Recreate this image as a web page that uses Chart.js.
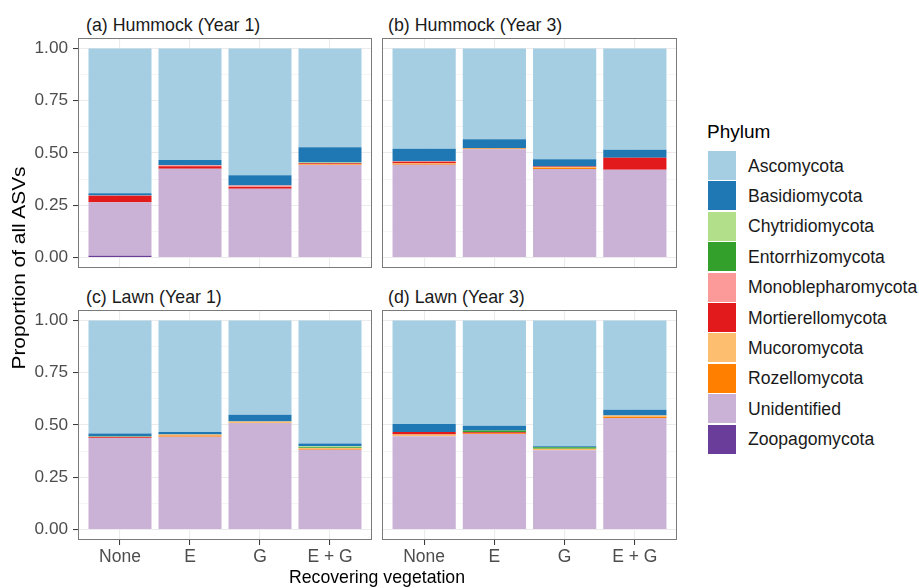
<!DOCTYPE html>
<html>
<head>
<meta charset="utf-8">
<script src="https://cdn.jsdelivr.net/npm/chart.js@4.4.0/dist/chart.umd.min.js"></script>
<style>
  body { margin: 0; background: #fff; font-family: "Liberation Sans", Arial, Helvetica, sans-serif; }
  #wrap { position: relative; width: 919px; height: 588px; overflow: hidden; background: #fff; }
  #wrap canvas { position: absolute; }
  .txt { position: absolute; white-space: nowrap; line-height: 20px; }
  .strip { font-size: 17.8px; color: #1a1a1a; }
  .key { position: absolute; width: 28px; height: 29px; }
</style>
</head>
<body>
<div id="wrap"></div>
<script>
const categorias = ['None', 'E', 'G', 'E + G'];
const titulos = ['(a) Hummock (Year 1)', '(b) Hummock (Year 3)', '(c) Lawn (Year 1)', '(d) Lawn (Year 3)'];
const yTicks = [0, 0.125, 0.25, 0.375, 0.5, 0.625, 0.75, 0.875, 1];

const phyla = ['Ascomycota', 'Basidiomycota', 'Chytridiomycota', 'Entorrhizomycota', 'Monoblepharomycota',
  'Mortierellomycota', 'Mucoromycota', 'Rozellomycota', 'Unidentified', 'Zoopagomycota'];
const cores = ['#a6cee3', '#1f78b4', '#b2df8a', '#33a02c', '#fb9a99',
  '#e31a1c', '#fdbf6f', '#ff7f00', '#cab2d6', '#6a3d9a'];

// proportions per panel (a, b, c, d), each [None, E, G, E + G]
const ascomycota = [[0.692, 0.533, 0.607, 0.473], [0.480, 0.434, 0.530, 0.485], [0.541, 0.533, 0.451, 0.589], [0.495, 0.503, 0.602, 0.427]];
const basidiomycota = [[0.011, 0.025, 0.048, 0.072], [0.059, 0.043, 0.035, 0.038], [0.013, 0.013, 0.032, 0.013], [0.038, 0.023, 0.005, 0.027]];
const chytridiomycota = [[0, 0, 0, 0.004], [0, 0, 0, 0], [0, 0, 0, 0.004], [0, 0, 0, 0]];
const entorrhizomycota = [[0, 0, 0, 0], [0, 0, 0, 0], [0.002, 0, 0, 0.004], [0, 0.009, 0.006, 0]];
const monoblepharomycota = [[0.002, 0.005, 0.008, 0], [0.003, 0, 0, 0], [0.003, 0, 0, 0], [0, 0, 0, 0]];
const mortierellomycota = [[0.030, 0.012, 0.008, 0.004], [0.007, 0, 0.002, 0.057], [0.003, 0, 0, 0], [0.013, 0.004, 0, 0]];
const mucoromycota = [[0, 0, 0, 0.002], [0.002, 0.002, 0.005, 0], [0, 0.004, 0.008, 0.004], [0.008, 0, 0.008, 0.006]];
const rozellomycota = [[0, 0, 0, 0.002], [0.005, 0.003, 0.004, 0], [0, 0.006, 0, 0.004], [0, 0.004, 0, 0.006]];
const unidentified = [[0.257, 0.425, 0.329, 0.443], [0.444, 0.518, 0.424, 0.420], [0.438, 0.444, 0.509, 0.382], [0.446, 0.457, 0.379, 0.534]];
const zoopagomycota = [[0.008, 0, 0, 0], [0, 0, 0, 0], [0, 0, 0, 0], [0, 0, 0, 0]];

const valores = [ascomycota, basidiomycota, chytridiomycota, entorrhizomycota, monoblepharomycota,
  mortierellomycota, mucoromycota, rozellomycota, unidentified, zoopagomycota];

const FONTE = '"Liberation Sans", Arial, Helvetica, sans-serif';
const wrap = document.getElementById('wrap');

// layout of the 4 facets
const paineis = [
  { left: 0,   top: 38,  w: 372, h: 230, eixoY: true,  eixoX: false },
  { left: 382, top: 38,  w: 295, h: 230, eixoY: false, eixoX: false },
  { left: 0,   top: 310, w: 372, h: 278, eixoY: true,  eixoX: true },
  { left: 382, top: 310, w: 295, h: 278, eixoY: false, eixoX: true }
];

const moldura = {
  id: 'moldura',
  afterDraw(chart) {
    const { ctx, chartArea: a } = chart;
    ctx.save();
    ctx.strokeStyle = '#7a7a7a';
    ctx.lineWidth = 1;
    ctx.strokeRect(a.left + 0.5, a.top + 0.5, a.width - 1, a.height - 1);
    ctx.restore();
  }
};

function ehMaior(v) {
  return Math.abs(v * 4 - Math.round(v * 4)) < 1e-6;
}

function semPadding(s) {
  s.paddingTop = 0;
  s.paddingBottom = 0;
  s.paddingLeft = 0;
  s.paddingRight = 0;
}

function addTexto(texto, css, classe) {
  const d = document.createElement('div');
  d.className = 'txt ' + (classe || '');
  d.textContent = texto;
  Object.assign(d.style, css);
  wrap.appendChild(d);
  return d;
}

paineis.forEach((p, i) => {
  const canvas = document.createElement('canvas');
  canvas.width = p.w;
  canvas.height = p.h;
  canvas.style.left = p.left + 'px';
  canvas.style.top = p.top + 'px';
  canvas.style.width = p.w + 'px';
  canvas.style.height = p.h + 'px';
  wrap.appendChild(canvas);

  // stack from the bottom: last phylum first
  const datasets = [];
  for (let k = phyla.length - 1; k >= 0; k--) {
    datasets.push({
      label: phyla[k],
      data: valores[k][i],
      backgroundColor: cores[k],
      borderWidth: 0,
      barPercentage: 0.9,
      categoryPercentage: 1
    });
  }

  new Chart(canvas, {
    type: 'bar',
    data: { labels: [1, 2, 3, 4], datasets: datasets },
    options: {
      responsive: false,
      animation: false,
      events: [],
      layout: { padding: 0 },
      plugins: { legend: { display: false }, tooltip: { enabled: false } },
      scales: {
        x: {
          type: 'linear',
          stacked: true,
          offset: false,
          min: 0.4,
          max: 4.6,
          border: { display: false },
          afterBuildTicks: s => { s.ticks = [1, 2, 3, 4].map(v => ({ value: v })); },
          afterFit: s => { s.height = p.eixoX ? p.h - 230 : 0; semPadding(s); },
          grid: {
            color: '#ebebeb',
            lineWidth: 1.1,
            offset: false,
            drawTicks: p.eixoX,
            tickLength: 5,
            tickColor: '#333333',
            tickWidth: 1
          },
          ticks: {
            display: p.eixoX,
            padding: 2,
            color: '#4d4d4d',
            font: { family: FONTE, size: 17.5 },
            maxRotation: 0,
            autoSkip: false,
            callback: v => categorias[v - 1]
          }
        },
        y: {
          stacked: true,
          min: -0.05,
          max: 1.05,
          border: { display: false },
          afterBuildTicks: s => { s.ticks = yTicks.map(v => ({ value: v })); },
          afterFit: s => { s.width = p.eixoY ? 78 : 0; semPadding(s); },
          grid: {
            color: c => ehMaior(c.tick.value) ? '#ebebeb' : '#f5f5f5',
            lineWidth: c => ehMaior(c.tick.value) ? 1.1 : 1,
            drawTicks: p.eixoY,
            tickLength: 5,
            tickColor: c => ehMaior(c.tick.value) ? '#333333' : 'rgba(0,0,0,0)',
            tickWidth: 1
          },
          ticks: {
            display: p.eixoY,
            padding: 5,
            color: '#4d4d4d',
            font: { family: FONTE, size: 17.2 },
            autoSkip: false,
            callback: v => ehMaior(v) ? v.toFixed(2) : ''
          }
        }
      }
    },
    plugins: [moldura]
  });

  // facet strip title
  const xTitulo = p.left + (p.eixoY ? 86 : 6);
  addTexto(titulos[i], { left: xTitulo + 'px', top: (p.top - 23) + 'px' }, 'strip');
});

// axis titles
addTexto('Recovering vegetation', { left: '0px', width: '754px', textAlign: 'center', top: '567px', fontSize: '17.7px', color: '#000' });
const yTit = addTexto('Proportion of all ASVs', { left: '-131px', width: '300px', textAlign: 'center', top: '258px', fontSize: '17.7px', color: '#000' });
yTit.style.transform = 'rotate(-90deg) scaleX(1.18)';

// legend
addTexto('Phylum', { left: '707px', top: '122px', fontSize: '19px', color: '#000' });
phyla.forEach((nome, k) => {
  const y = 151 + k * 30.4;
  const q = document.createElement('div');
  q.className = 'key';
  q.style.left = '708px';
  q.style.top = y + 'px';
  q.style.background = cores[k];
  wrap.appendChild(q);
  addTexto(nome, { left: '748px', top: (y + 4.5) + 'px', fontSize: '17.6px', color: '#1a1a1a' });
});
</script>
</body>
</html>
